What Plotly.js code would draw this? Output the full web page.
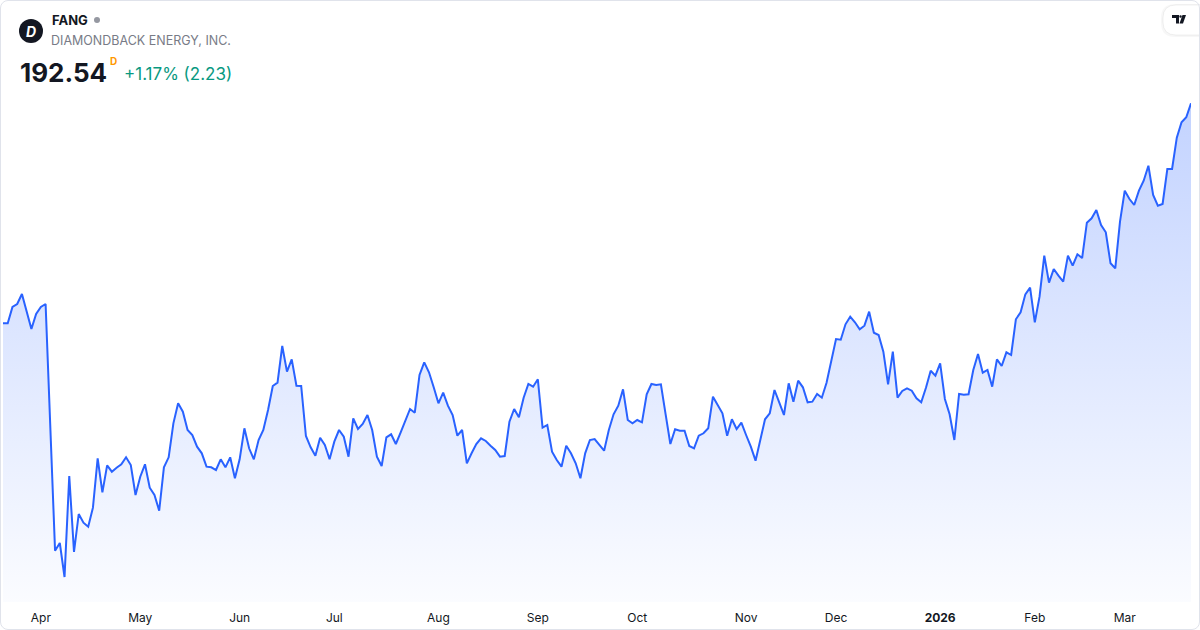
<!DOCTYPE html>
<html><head><meta charset="utf-8">
<script src="https://cdn.plot.ly/plotly-3.0.1.min.js"></script>
<style>
html,body{margin:0;padding:0;background:#fff;}
#wrap{position:relative;width:1200px;height:630px;overflow:hidden;}
#chart{position:absolute;left:0;top:0;width:1200px;height:630px;}
#frame{position:absolute;left:0;top:0;width:1200px;height:630px;box-sizing:border-box;border:1px solid #e0e3eb;border-radius:8px;pointer-events:none;}
</style></head><body>
<div id="wrap"><div id="chart"></div><div id="frame"></div></div>
<script>
// ---- data ----
const symbol = 'FANG';
const companyName = 'DIAMONDBACK ENERGY, INC.';
const lastPrice = '192.54';
const intervalTag = 'D';
const changeText = '+1.17% (2.23)';
const startDate = '2025-03-20';
const holidays = ['2025-04-18','2025-05-26','2025-06-19','2025-07-04','2025-09-01','2025-11-27','2025-12-25','2026-01-01','2026-01-19','2026-02-16'];
const monthLabels = ['Apr','May','Jun','Jul','Aug','Sep','Oct','Nov','Dec','2026','Feb','Mar'];
const closes = [
157.34,157.34,159.95,160.43,162.03,159.20,156.43,158.83,159.95,160.43,
140.75,120.96,122.19,116.75,132.91,120.75,126.83,125.44,124.80,127.84,
135.74,130.30,134.62,133.60,134.24,134.78,135.90,134.67,129.87,132.80,
134.78,131.04,129.87,127.36,134.30,135.90,141.34,144.54,143.20,140.27,
139.47,137.60,136.54,134.40,134.30,133.87,135.58,134.30,135.90,132.54,
135.58,140.54,137.34,135.58,138.67,140.27,143.47,147.31,147.84,153.71,
149.60,151.58,147.36,147.31,139.31,137.50,136.16,139.04,137.87,135.58,
138.40,140.27,139.20,136.00,142.14,140.43,141.23,142.67,140.27,136.00,
134.51,139.10,139.58,138.03,139.84,141.76,143.63,143.04,149.07,151.10,
149.50,147.10,144.54,146.24,144.16,142.67,139.36,140.27,134.94,136.54,
138.03,138.94,138.51,137.76,137.07,136.00,136.11,141.60,143.63,142.30,
145.44,147.63,147.20,148.38,140.64,141.07,136.80,135.47,134.40,137.76,
136.54,134.94,132.54,136.54,138.67,138.83,137.87,136.96,140.27,142.78,
144.16,146.78,141.87,141.34,141.87,141.50,145.98,147.63,147.47,147.58,
142.78,138.03,140.38,140.16,140.16,137.71,137.34,139.36,139.74,140.54,
145.60,144.38,142.94,139.36,141.98,140.43,141.44,139.47,137.60,135.36,
138.78,141.98,142.94,146.67,144.70,142.67,147.74,144.80,148.16,147.10,
144.70,144.80,146.03,145.44,147.84,151.20,154.83,154.72,157.18,158.40,
157.50,156.38,156.96,159.20,155.84,155.47,152.80,147.58,152.80,145.44,
146.51,146.94,146.56,145.34,144.70,147.04,149.76,148.96,150.94,145.23,
142.78,138.67,146.03,145.92,145.98,149.87,152.43,149.44,149.87,147.20,
151.58,150.51,152.70,152.27,157.98,159.10,161.98,163.04,157.50,161.60,
168.16,163.84,166.03,164.96,164.00,168.16,166.56,168.38,167.79,173.44,
174.14,175.47,173.07,171.90,166.94,166.14,173.60,178.56,177.23,176.27,
178.56,180.16,182.56,177.87,176.16,176.43,182.03,182.03,187.04,189.50,
190.31,192.54
];

// ---- trading calendar built from the data ----
const dates = [];
(function(){
  const d = new Date(startDate + 'T00:00:00Z');
  while (dates.length < closes.length) {
    const s = d.toISOString().slice(0,10);
    const wd = d.getUTCDay();
    if (wd !== 0 && wd !== 6 && holidays.indexOf(s) < 0) dates.push(s);
    d.setUTCDate(d.getUTCDate() + 1);
  }
})();
const tickvals = [];
for (let i = 1; i < dates.length; i++) {
  if (dates[i].slice(5,7) !== dates[i-1].slice(5,7)) tickvals.push(dates[i]);
}
const ticktext = tickvals.map((v, i) => /^\d{4}$/.test(monthLabels[i]) ? '<b>' + monthLabels[i] + '</b>' : monthLabels[i]);

// ---- layout geometry ----
const FW = 1200, FH = 630;
const M = {l: 3, r: 9, t: 95, b: 28};
const PW = FW - M.l - M.r, PH = FH - M.t - M.b;
const PX = x => (x - M.l) / PW;
const PY = y => 1 - (y - M.t) / PH;
const P = (x, y) => PX(x) + ',' + PY(y);
const yRange = [112.75, 193.87];
const maxClose = Math.max.apply(null, closes);

const FONT = 'Inter, "Noto Sans", sans-serif';

const trace = {
  type: 'scatter', mode: 'lines',
  x: dates, y: closes,
  line: {color: '#2962FF', width: 2},
  fill: 'tozeroy',
  fillgradient: {
    type: 'vertical', start: yRange[0], stop: maxClose,
    colorscale: [[0, 'rgba(41,98,255,0.02)'], [1, 'rgba(41,98,255,0.28)']]
  },
  hoverinfo: 'skip'
};

// rounded pill (left corners rounded) for the watermark logo
function pill(x0, y0, x1, y1, r) {
  return 'M' + P(x0 + r, y0) + ' L' + P(x1, y0) + ' L' + P(x1, y1) + ' L' + P(x0 + r, y1) +
    ' Q' + P(x0, y1) + ' ' + P(x0, y1 - r) + ' L' + P(x0, y0 + r) +
    ' Q' + P(x0, y0) + ' ' + P(x0 + r, y0) + ' Z';
}

const shapes = [
  {type: 'circle', xref: 'paper', yref: 'paper', x0: PX(19), x1: PX(43), y0: PY(43), y1: PY(19),
   fillcolor: '#131722', line: {width: 0}},
  {type: 'circle', xref: 'paper', yref: 'paper', x0: PX(94), x1: PX(100), y0: PY(23), y1: PY(17),
   fillcolor: '#9598a1', line: {width: 0}},
  {type: 'path', xref: 'paper', yref: 'paper', path: pill(1161, 4, 1215, 37, 14),
   fillcolor: 'rgba(0,0,0,0.03)', line: {width: 0}},
  {type: 'path', xref: 'paper', yref: 'paper', path: pill(1163, 5, 1215, 35, 13),
   fillcolor: '#ffffff', line: {color: 'rgba(0,0,0,0.06)', width: 1}},
  {type: 'path', xref: 'paper', yref: 'paper',
   path: 'M' + P(1172, 15) + ' L' + P(1179, 15) + ' L' + P(1179, 23.5) + ' L' + P(1176, 23.5) +
         ' L' + P(1176, 18) + ' L' + P(1172, 18) + ' Z',
   fillcolor: '#131722', line: {width: 0}},
  {type: 'path', xref: 'paper', yref: 'paper',
   path: 'M' + P(1179.5, 23.5) + ' L' + P(1182.5, 15) + ' L' + P(1186, 15) + ' L' + P(1183, 23.5) + ' Z',
   fillcolor: '#131722', line: {width: 0}},
  {type: 'circle', xref: 'paper', yref: 'paper', x0: PX(1179.3), x1: PX(1181.8), y0: PY(17.8), y1: PY(15.3),
   fillcolor: '#131722', line: {width: 0}}
];

const ann = (x, y, text, size, color, extra) => Object.assign({
  xref: 'paper', yref: 'paper', x: PX(x), y: PY(y), xanchor: 'left', yanchor: 'middle',
  text: text, showarrow: false, font: {family: FONT, size: size, color: color}
}, extra || {});

const annotations = [
  ann(31, 31, '<b><i>D</i></b>', 14, '#ffffff', {xanchor: 'center'}),
  ann(50, 20, '<b>' + symbol + '</b>', 13, '#131722'),
  ann(49, 41, companyName, 12.5, '#787b86'),
  ann(18, 72, '<b>' + lastPrice + '</b>', 26, '#131722'),
  ann(108, 61, '<b>' + intervalTag + '</b>', 10, '#ff9800'),
  ann(122, 74, changeText, 17, '#089981')
];

const layout = {
  width: FW, height: FH,
  margin: M,
  paper_bgcolor: 'rgba(0,0,0,0)', plot_bgcolor: 'rgba(0,0,0,0)',
  showlegend: false,
  font: {family: FONT},
  xaxis: {
    type: 'category', range: [0, closes.length - 1],
    tickvals: tickvals, ticktext: ticktext,
    showgrid: false, zeroline: false, showline: false, ticks: '',
    ticklabelstandoff: 7,
    tickfont: {family: FONT, size: 12, color: '#131722'},
    fixedrange: true
  },
  yaxis: {
    range: yRange, visible: false, showgrid: false, zeroline: false, fixedrange: true
  },
  shapes: shapes,
  annotations: annotations
};

Plotly.newPlot('chart', [trace], layout, {displayModeBar: false, staticPlot: true});
</script>
</body></html>
